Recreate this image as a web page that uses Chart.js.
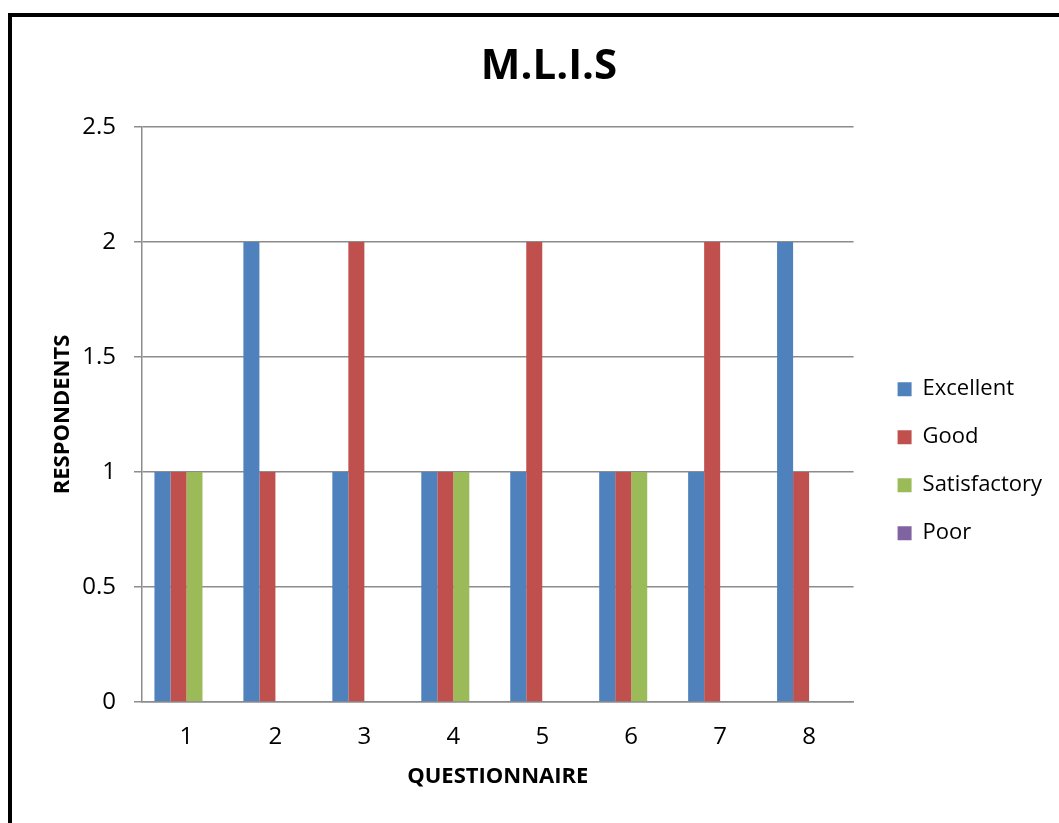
<!DOCTYPE html>
<html>
<head>
<meta charset="utf-8">
<title>M.L.I.S</title>
<script src="https://cdn.jsdelivr.net/npm/chart.js@4"></script>
<style>
  html, body { margin: 0; padding: 0; background: #fff; overflow: hidden; }
  #frame {
    position: absolute; left: 8px; top: 13px;
    width: 1200px; height: 1000px;
    border: 4px solid #000;
  }
  #wrap { position: absolute; left: 0; top: 0; width: 1059px; height: 823px; }
</style>
</head>
<body>
<div id="frame"></div>
<div id="wrap"><canvas id="chart" width="1059" height="823"></canvas></div>
<script>
// ===== 数据 =====
const QUESTIONS = ['1', '2', '3', '4', '5', '6', '7', '8'];
const EXCELLENT = [1, 2, 1, 1, 1, 1, 1, 2];
const GOOD = [1, 1, 2, 1, 2, 1, 2, 1];
const SATISFACTORY = [1, 0, 0, 1, 0, 1, 0, 0];
const POOR = [0, 0, 0, 0, 0, 0, 0, 0];

// ===== 颜色 =====
const C_BLUE = '#4F81BD';
const C_RED = '#C0504D';
const C_GREEN = '#9BBB59';
const C_PURPLE = '#8064A2';
const C_GRID = '#8C8C8C';
const FONT = "'Open Sans', 'DejaVu Sans', sans-serif";

function bar(label, data, color) {
  return {
    label: label,
    data: data,
    backgroundColor: color,
    borderWidth: 0,
    categoryPercentage: 0.72,
    barPercentage: 1.0
  };
}

new Chart(document.getElementById('chart'), {
  type: 'bar',
  data: {
    labels: QUESTIONS,
    datasets: [
      bar('Excellent', EXCELLENT, C_BLUE),
      bar('Good', GOOD, C_RED),
      bar('Satisfactory', SATISFACTORY, C_GREEN),
      bar('Poor', POOR, C_PURPLE)
    ]
  },
  options: {
    responsive: false,
    animation: false,
    layout: { padding: { left: 46, right: 7, top: 28, bottom: 33 } },
    plugins: {
      title: {
        display: true,
        text: 'M.L.I.S',
        color: '#000',
        font: { family: FONT, size: 42, weight: 'bold' },
        padding: { top: 14, bottom: 34.6 }
      },
      legend: {
        position: 'right',
        maxWidth: 300,
        // 空标题只用来把图例往下推
        title: { display: true, text: '', font: { size: 12 }, padding: { top: 90, bottom: 0 } },
        labels: {
          color: '#000',
          font: { family: FONT, size: 22 },
          boxWidth: 14,
          boxHeight: 14,
          padding: 26
        }
      },
      tooltip: { enabled: false }
    },
    scales: {
      x: {
        grid: { display: false, drawTicks: false },
        border: { display: true, color: C_GRID, width: 1.5 },
        ticks: { color: '#000', font: { family: FONT, size: 24 }, padding: 21 },
        title: {
          display: true,
          text: 'QUESTIONNAIRE',
          color: '#000',
          font: { family: FONT, size: 22, weight: 'bold' },
          padding: { top: 16, bottom: 0 }
        },
        afterFit: (s) => { s.height = 88; }
      },
      y: {
        min: 0,
        max: 2.5,
        ticks: {
          stepSize: 0.5,
          color: '#000',
          font: { family: FONT, size: 24 },
          padding: 18,
          callback: (v) => String(v)
        },
        grid: { color: C_GRID, lineWidth: 1.5, tickLength: 8 },
        border: { display: true, color: C_GRID, width: 1.5 },
        title: {
          display: true,
          text: 'RESPONDENTS',
          color: '#000',
          font: { family: FONT, size: 22, weight: 'bold' },
          padding: { top: 4, bottom: 4 }
        },
        afterFit: (s) => { s.width = 142 - 46; }
      },
      // 右侧留白，让图例与绘图区隔开
      gap: {
        type: 'linear',
        position: 'right',
        display: true,
        grid: { display: false, drawTicks: false },
        border: { display: false },
        ticks: { display: false },
        afterFit: (s) => { s.width = 18; }
      }
    }
  }
});
</script>
</body>
</html>
